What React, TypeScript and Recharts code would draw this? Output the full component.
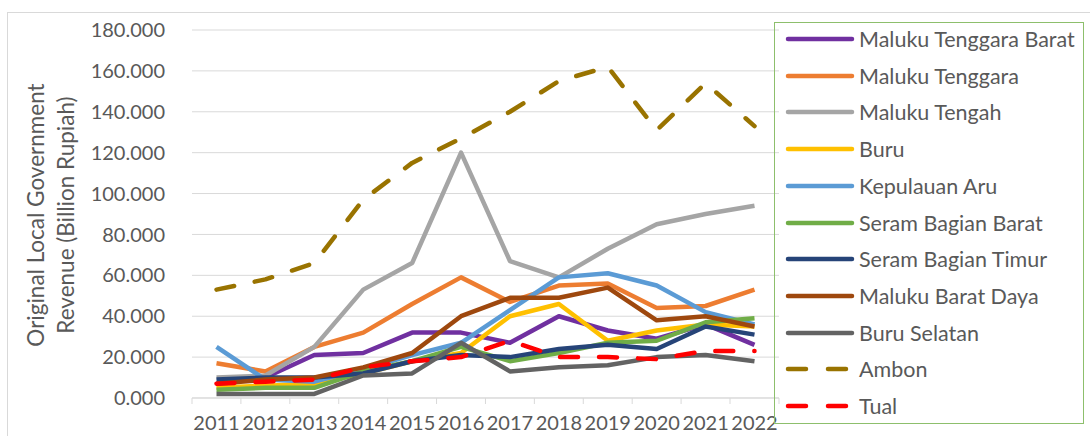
import { CartesianGrid, Line, LineChart, XAxis, YAxis } from "recharts";

const YEARS = ["2011", "2012", "2013", "2014", "2015", "2016", "2017", "2018", "2019", "2020", "2021", "2022"];
const Y_TICKS = [0, 20, 40, 60, 80, 100, 120, 140, 160, 180];

// values in billion rupiah
const MALUKU_TENGGARA_BARAT = [7, 10, 21, 22, 32, 32, 27, 40, 33, 29, 36, 26];
const MALUKU_TENGGARA = [17, 13, 25, 32, 46, 59, 47, 55, 56, 44, 45, 53];
const MALUKU_TENGAH = [10, 11, 25, 53, 66, 120, 67, 59, 73, 85, 90, 94];
const BURU = [5, 6, 7, 12, 18, 22, 40, 46, 28, 33, 36, 35];
const KEPULAUAN_ARU = [25, 9, 8, 14, 21, 27, 43, 59, 61, 55, 42, 36];
const SERAM_BAGIAN_BARAT = [4, 5, 5, 13, 18, 25, 18, 22, 27, 28, 37, 39];
const SERAM_BAGIAN_TIMUR = [9, 10, 10, 12, 18, 21, 20, 24, 26, 24, 35, 31];
const MALUKU_BARAT_DAYA = [7, 9, 10, 15, 22, 40, 49, 49, 54, 38, 40, 35];
const BURU_SELATAN = [2, 2, 2, 11, 12, 27, 13, 15, 16, 20, 21, 18];
const AMBON = [53, 58, 66, 97, 115, 127, 140, 155, 162, 131, 154, 133];
const TUAL = [7, 8, 9, 15, 18, 20, 28, 20, 20, 19, 23, 23];

const SERIES = [
	{ name: "Maluku Tenggara Barat", values: MALUKU_TENGGARA_BARAT, color: "#7030a0", dashed: false },
	{ name: "Maluku Tenggara", values: MALUKU_TENGGARA, color: "#ed7d31", dashed: false },
	{ name: "Maluku Tengah", values: MALUKU_TENGAH, color: "#a5a5a5", dashed: false },
	{ name: "Buru", values: BURU, color: "#ffc000", dashed: false },
	{ name: "Kepulauan Aru", values: KEPULAUAN_ARU, color: "#5b9bd5", dashed: false },
	{ name: "Seram Bagian Barat", values: SERAM_BAGIAN_BARAT, color: "#70ad47", dashed: false },
	{ name: "Seram Bagian Timur", values: SERAM_BAGIAN_TIMUR, color: "#264478", dashed: false },
	{ name: "Maluku Barat Daya", values: MALUKU_BARAT_DAYA, color: "#9e480e", dashed: false },
	{ name: "Buru Selatan", values: BURU_SELATAN, color: "#636363", dashed: false },
	{ name: "Ambon", values: AMBON, color: "#997300", dashed: true },
	{ name: "Tual", values: TUAL, color: "#ff0000", dashed: true },
];

const DATA = YEARS.map((year, i) => {
	const row: Record<string, string | number> = { year };
	SERIES.forEach((s) => {
		row[s.name] = s.values[i];
	});
	return row;
});

const FONT = "Lato, 'Noto Sans', sans-serif";
const TEXT = "#595959";
const GRID = "#d9d9d9";
const HALF_BAND = 24.5;

function YearTick(props: any) {
	const { x, y, payload, index } = props;
	return (
		<g>
			<line x1={x - HALF_BAND} x2={x - HALF_BAND} y1={y} y2={y + 6} stroke={GRID} />
			{index === YEARS.length - 1 && (
				<line x1={x + HALF_BAND} x2={x + HALF_BAND} y1={y} y2={y + 6} stroke={GRID} />
			)}
			<text x={x} y={y + 25} dy="0.35em" textAnchor="middle" fill={TEXT} fontSize={20} fontFamily={FONT}>
				{payload.value}
			</text>
		</g>
	);
}

export default function App() {
	return (
		<div style={{ position: "absolute", left: 0, top: 0, width: 1090, height: 436, background: "#fff", overflow: "hidden", fontFamily: FONT }}>
			<div style={{ position: "absolute", left: 7, top: 12, width: 1100, height: 450, border: `1px solid ${GRID}` }} />
			<LineChart width={1090} height={436} data={DATA} margin={{ top: 30, right: 311, bottom: 0, left: 0 }}>
				<CartesianGrid vertical={false} stroke={GRID} />
				<XAxis
					dataKey="year"
					height={38}
					padding={{ left: HALF_BAND, right: HALF_BAND }}
					stroke={GRID}
					tickLine={false}
					tickSize={0}
					tickMargin={0}
					tick={<YearTick />}
					interval={0}
				/>
				<YAxis
					domain={[0, 180]}
					ticks={Y_TICKS}
					width={192}
					axisLine={false}
					tickLine={false}
					tickSize={0}
					tickMargin={27}
					tickFormatter={(v: number) => v.toFixed(3)}
					tick={{ fill: TEXT, fontSize: 20, fontFamily: FONT }}
				/>
				{SERIES.map((s) => (
					<Line
						key={s.name}
						type="linear"
						dataKey={s.name}
						stroke={s.color}
						strokeWidth={4.5}
						strokeDasharray={s.dashed ? "18 21" : undefined}
						strokeLinecap={s.dashed ? "round" : "butt"}
						strokeLinejoin="round"
						dot={false}
						activeDot={false}
						isAnimationActive={false}
					/>
				))}
			</LineChart>
			<div
				style={{
					position: "absolute",
					left: 51,
					top: 215,
					width: 400,
					transform: "translate(-50%, -50%) rotate(-90deg)",
					transformOrigin: "center",
					textAlign: "center",
					color: TEXT,
					fontSize: 22.5,
					lineHeight: "30px",
				}}
			>
				<div>Original Local Government</div>
				<div>Revenue (Billion Rupiah)</div>
			</div>
			<div
				style={{
					position: "absolute",
					left: 774,
					top: 22,
					width: 310,
					height: 402,
					border: "1.5px solid #8dbf6c",
					boxSizing: "border-box",
				}}
			>
				{SERIES.map((s, i) => (
					<div
						key={s.name}
						style={{ position: "absolute", left: 0, top: 16 + i * 36.7 - 14, height: 28, display: "flex", alignItems: "center" }}
					>
						<svg width={84} height={28} style={{ display: "block" }}>
							<line
								x1={13}
								x2={77}
								y1={14}
								y2={14}
								stroke={s.color}
								strokeWidth={4.5}
								strokeLinecap="round"
								strokeDasharray={s.dashed ? "18 22" : undefined}
							/>
						</svg>
						<span style={{ color: TEXT, fontSize: 21.5, whiteSpace: "nowrap" }}>{s.name}</span>
					</div>
				))}
			</div>
		</div>
	);
}
